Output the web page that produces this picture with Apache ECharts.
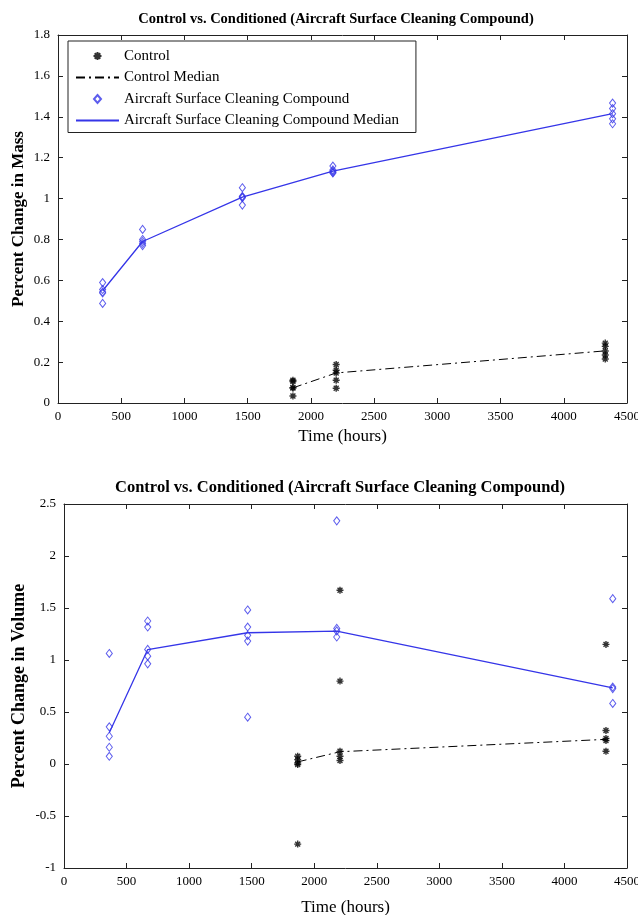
<!DOCTYPE html>
<html>
<head>
<meta charset="utf-8">
<script src="https://cdn.jsdelivr.net/npm/echarts@6/dist/echarts.min.js"></script>
<style>
  html, body { margin: 0; padding: 0; background: #ffffff; }
  #chart { width: 638px; height: 915px; }
</style>
</head>
<body>
<div id="chart"></div>
<script>
// Percent change in mass, sampled at each inspection time (hours)
const massCtrlHours = [1858, 2200, 4328];
const massCtrl = [
  [0.111, 0.105, 0.075, 0.073, 0.034],
  [0.188, 0.160, 0.147, 0.111, 0.072],
  [0.293, 0.277, 0.254, 0.235, 0.215]
];
const massCtrlMedian = [0.074, 0.147, 0.255];

const massAcscHours = [353, 669, 1458, 2174, 4386];
const massAcsc = [
  [0.589, 0.555, 0.543, 0.538, 0.487],
  [0.849, 0.800, 0.790, 0.780, 0.770],
  [1.053, 1.011, 1.007, 1.004, 0.968],
  [1.159, 1.140, 1.134, 1.128, 1.125],
  [1.467, 1.440, 1.415, 1.390, 1.366]
];
const massAcscMedian = [0.549, 0.790, 1.007, 1.134, 1.415];

// Percent change in volume
const volCtrlHours = [1868, 2206, 4332];
const volCtrl = [
  [0.074, 0.042, 0.010, -0.006, -0.770],
  [1.671, 0.797, 0.122, 0.074, 0.033],
  [1.150, 0.322, 0.245, 0.225, 0.122]
];
const volCtrlMedian = [0.020, 0.118, 0.237];

const volAcscHours = [362, 669, 1468, 2180, 4386];
const volAcsc = [
  [1.063, 0.357, 0.267, 0.161, 0.074],
  [1.375, 1.317, 1.102, 1.037, 0.963],
  [1.481, 1.317, 1.237, 1.182, 0.450],
  [2.338, 1.304, 1.280, 1.221],
  [1.590, 0.740, 0.725, 0.582]
];
const volAcscMedian = [0.300, 1.100, 1.262, 1.278, 0.732];

// Axis ticks
const hourTicks = { min: 0, max: 4500, interval: 500 };
const massTicks = { min: 0, max: 1.8, interval: 0.2 };
const volTicks = { min: -1, max: 2.5, interval: 0.5 };

const titleText = 'Control vs. Conditioned (Aircraft Surface Cleaning Compound)';
const NAMES = ['Control', 'Control Median', 'Aircraft Surface Cleaning Compound', 'Aircraft Surface Cleaning Compound Median'];

const SERIF = '"Liberation Serif", "Times New Roman", serif';
const BLUE = '#3535e8';
const ASTERISK = 'path://M5,0L5,10M0,5L10,5M1.5,1.5L8.5,8.5M1.5,8.5L8.5,1.5';
const DIAMOND = 'path://M7,0L14,8L7,16L0,8Z';

function points(hours, groups) {
  const out = [];
  groups.forEach((g, i) => g.forEach(v => out.push([hours[i], v])));
  return out;
}
function pairs(hours, vals) {
  return vals.map((v, i) => [hours[i], v]);
}
const plain = v => String(v);

function boxAxisBase(gridIndex, ticks) {
  return {
    gridIndex, type: 'value', ...ticks,
    axisLine: { show: true, onZero: false, lineStyle: { color: '#222', width: 1 } },
    axisTick: { show: true, inside: true, length: 5, lineStyle: { color: '#222' } },
    splitLine: { show: false }
  };
}

function xAxes(gridIndex, nameGap) {
  const base = boxAxisBase(gridIndex, hourTicks);
  return [
    Object.assign({}, base, {
      position: 'bottom',
      axisLabel: { color: '#000', fontFamily: SERIF, fontSize: 13, margin: 7, formatter: plain },
      name: 'Time (hours)', nameLocation: 'middle', nameGap,
      nameTextStyle: { color: '#000', fontFamily: SERIF, fontSize: 17 }
    }),
    Object.assign({}, base, { position: 'top', axisLabel: { show: false } })
  ];
}
function yAxes(gridIndex, ticks, name, nameGap, nameSize) {
  const base = boxAxisBase(gridIndex, ticks);
  return [
    Object.assign({}, base, {
      position: 'left',
      axisLabel: { color: '#000', fontFamily: SERIF, fontSize: 13, margin: 8, formatter: plain },
      name, nameLocation: 'middle', nameGap, nameRotate: 90, nameMoveOverlap: false,
      nameTextStyle: { color: '#000', fontFamily: SERIF, fontSize: nameSize, fontWeight: 'bold' }
    }),
    Object.assign({}, base, { position: 'right', axisLabel: { show: false } })
  ];
}

function seriesFor(xIdx, yIdx, ctrlH, ctrl, ctrlMed, acH, ac, acMed) {
  return [
    {
      name: NAMES[0], type: 'scatter', xAxisIndex: xIdx, yAxisIndex: yIdx,
      symbol: ASTERISK, symbolSize: 7,
      itemStyle: { color: '#000', borderColor: '#000', borderWidth: 1.4 },
      data: points(ctrlH, ctrl), z: 3
    },
    {
      name: NAMES[1], type: 'line', xAxisIndex: xIdx, yAxisIndex: yIdx,
      symbol: 'none', itemStyle: { color: '#000' },
      lineStyle: { color: '#000', width: 1, type: [9, 4, 2, 4] },
      data: pairs(ctrlH, ctrlMed), z: 2
    },
    {
      name: NAMES[2], type: 'scatter', xAxisIndex: xIdx, yAxisIndex: yIdx,
      symbol: DIAMOND, symbolSize: [7, 8], symbolKeepAspect: true,
      itemStyle: { color: 'transparent', borderColor: BLUE, borderWidth: 1 },
      data: points(acH, ac), z: 3
    },
    {
      name: NAMES[3], type: 'line', xAxisIndex: xIdx, yAxisIndex: yIdx,
      symbol: 'none', itemStyle: { color: BLUE },
      lineStyle: { color: BLUE, width: 1.3 },
      data: pairs(acH, acMed), z: 4
    }
  ];
}

const chart = echarts.init(document.getElementById('chart'), null, { renderer: 'canvas' });
chart.setOption({
  backgroundColor: '#ffffff',
  animation: false,
  grid: [
    { left: 58, top: 35, width: 569, height: 368, containLabel: false, outerBoundsMode: 'none' },
    { left: 64, top: 504, width: 563, height: 364, containLabel: false, outerBoundsMode: 'none' }
  ],
  xAxis: [...xAxes(0, 25), ...xAxes(1, 31)],
  yAxis: [
    ...yAxes(0, massTicks, 'Percent Change in Mass', 31, 17),
    ...yAxes(1, volTicks, 'Percent Change in Volume', 36, 18)
  ],
  legend: {
    data: [
      { name: NAMES[0] },
      { name: NAMES[1], itemStyle: { opacity: 0 } },
      { name: NAMES[2] },
      { name: NAMES[3], itemStyle: { opacity: 0 } }
    ],
    orient: 'vertical',
    left: 68, top: 41,
    itemWidth: 43, itemHeight: 8, itemGap: 5.5,
    symbolKeepAspect: true,
    padding: [7, 17, 4, 7],
    borderColor: '#222', borderWidth: 1,
    backgroundColor: '#ffffff',
    selectedMode: false,
    textStyle: { color: '#000', fontFamily: SERIF, fontSize: 15, lineHeight: 16 }
  },
  graphic: [
    {
      type: 'text', x: 336, y: 19,
      style: { text: titleText, textAlign: 'center', textVerticalAlign: 'middle',
               fill: '#000', font: 'bold 14.5px ' + SERIF }
    },
    {
      type: 'text', x: 340, y: 488,
      style: { text: titleText, textAlign: 'center', textVerticalAlign: 'middle',
               fill: '#000', font: 'bold 16.5px ' + SERIF }
    }
  ],
  series: [
    ...seriesFor(0, 0, massCtrlHours, massCtrl, massCtrlMedian, massAcscHours, massAcsc, massAcscMedian),
    ...seriesFor(2, 2, volCtrlHours, volCtrl, volCtrlMedian, volAcscHours, volAcsc, volAcscMedian)
  ]
});
</script>
</body>
</html>
